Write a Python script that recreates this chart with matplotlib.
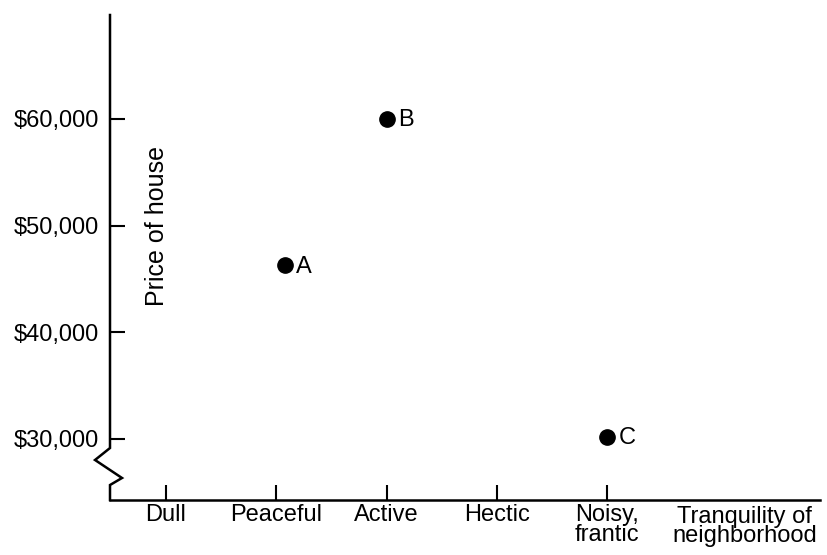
import matplotlib
matplotlib.use("Agg")
import matplotlib.pyplot as plt

plt.rcParams['font.family'] = ['Liberation Sans', 'DejaVu Sans']

# categories on the x axis (tranquility of neighborhood)
categories = ['Dull', 'Peaceful', 'Active', 'Hectic', 'Noisy,\nfrantic']
cat_pos = [1, 2, 3, 4, 5]

# price ticks
price_ticks = [30000, 40000, 50000, 60000]
price_labels = ['$30,000', '$40,000', '$50,000', '$60,000']

# houses
house_names = ['A', 'B', 'C']
house_x = [2.08, 3.0, 5.0]
house_price = [46300, 60000, 30200]

fig = plt.figure(figsize=(8.28, 5.55), dpi=100)
ax = fig.add_axes([110/828, 55/555, 710/828, 485/555])

ax.set_xlim(0.492, 6.93)
ax.set_ylim(24281, 69750)

ax.plot(house_x, house_price, 'o', color='black', markersize=11, clip_on=False)
for n, x, y in zip(house_names, house_x, house_price):
    ax.annotate(n, (x, y), xytext=(8, -1), textcoords='offset points',
                ha='left', va='center', fontsize=17)

# spines
for s in ['top', 'right', 'left']:
    ax.spines[s].set_visible(False)
ax.spines['bottom'].set_linewidth(1.8)

# left axis with a break
bx = [0, 0, -0.0211, 0.0169, 0, 0]
by = [1, 0.1072, 0.0825, 0.0454, 0.0309, 0]
ax.plot(bx, by, color='black', lw=1.8, transform=ax.transAxes, clip_on=False,
        solid_joinstyle='miter')

ax.set_xticks(cat_pos)
ax.set_xticklabels(categories, fontsize=17, linespacing=0.85)
ax.set_yticks(price_ticks)
ax.set_yticklabels(price_labels, fontsize=17)
ax.tick_params(axis='x', direction='in', length=11, width=1.5, pad=3)
ax.tick_params(axis='y', direction='in', length=11, width=1.5, pad=8)

ax.text(0.066, 0.565, 'Price of house', transform=ax.transAxes, rotation=90,
        ha='center', va='center', fontsize=18)
ax.text(0.894, -0.012, 'Tranquility of\nneighborhood', transform=ax.transAxes,
        ha='center', va='top', fontsize=17, linespacing=0.85)

fig.savefig('out.png', dpi=100)
